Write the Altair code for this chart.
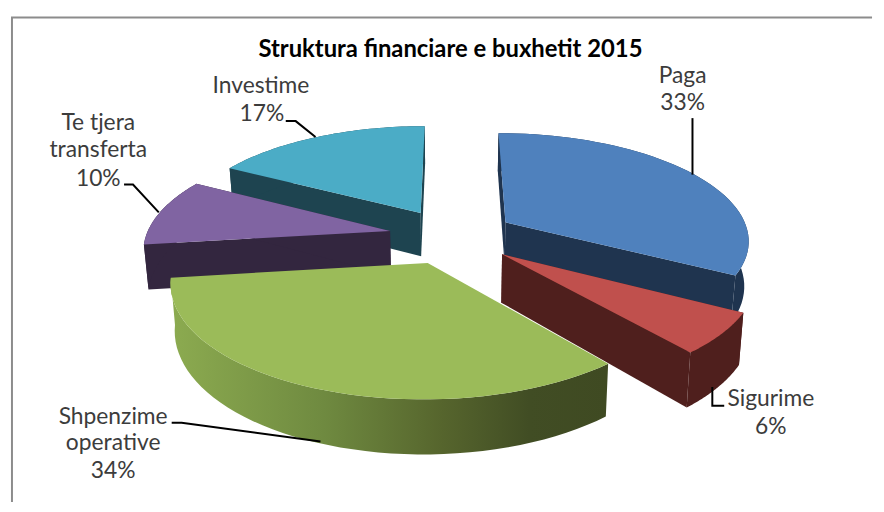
import math
import altair as alt
import pandas as pd

# --- values ---
names = ["Paga", "Sigurime", "Shpenzime operative", "Te tjera transferta", "Investime"]
shares = [33, 6, 34, 10, 17]
top_colors = ["#4f81bd", "#c0504d", "#9bbb59", "#8064a2", "#4bacc6"]
wall_colors = ["#1f344f", "#4f1f1d", "#3f4a22", "#33263f", "#1e4450"]
draw_order = [4, 0, 3, 1, 2]
depths = [45, 47.5, 45, 45, 45]

label_lines = ["Investime", "17%", "Te tjera", "transferta", "10%", "Paga", "33%",
               "Shpenzime", "operative", "34%", "Sigurime", "6%"]
label_x = [260, 261, 96, 96, 96, 685, 685, 111, 111, 111, 774, 774]
label_y = [85, 113, 122, 149, 178, 75, 102, 418, 445, 473, 400, 428]
title_text = "Struktura financiare e buxhetit 2015"

leaders = [
    [(285, 120), (295, 120), (315, 136)],
    [(122, 184), (131, 184), (157, 212)],
    [(695, 117), (695, 174)],
    [(170, 424), (180, 424), (320, 443)],
    [(715, 388), (715, 407), (727, 407)],
]

# --- view of the tilted pie ---
CX, CY, A, B, K, EXPLODE, TAPER = 452.5, 236, 246, 107.5, 0.152, 0.26, 0.985
X_DOM = [8, 876]
Y_DOM = [8, 504]


def project(theta, radius, mid, depth=None):
    u = radius * math.sin(theta) + EXPLODE * math.sin(mid)
    v = radius * math.cos(theta) + EXPLODE * math.cos(mid)
    s = 1 / (1 + K * v)
    x, y = CX + A * u * s, CY - B * v * s
    if depth is not None:
        x, y = CX + (x - CX) * TAPER, y + depth * s
    return x, y


def arc_angles(a0, a1, n=48):
    return [a0 + (a1 - a0) * i / n for i in range(n + 1)]


def frame(points):
    rows = [{"x": p[0], "y": p[1], "i": i} for i, p in enumerate(points + points[:1])]
    return pd.DataFrame(rows)


X = alt.X("x:Q", scale=alt.Scale(domain=X_DOM), axis=None)
Y = alt.Y("y:Q", scale=alt.Scale(domain=Y_DOM[::-1]), axis=None)


def polygon(points, fill):
    return alt.Chart(frame(points)).mark_line(fill=fill, stroke=None, strokeWidth=0).encode(
        x=X, y=Y, order=alt.Order("i:Q")
    )


green_wall = alt.Gradient(
    gradient="linear", x1=0, x2=1, y1=0, y2=0,
    stops=[
        alt.GradientStop(color="#8cab50", offset=0),
        alt.GradientStop(color="#6f8a40", offset=0.35),
        alt.GradientStop(color="#56652d", offset=0.62),
        alt.GradientStop(color="#414d24", offset=0.82),
        alt.GradientStop(color="#3f4a22", offset=1),
    ],
)

starts = [0]
for s in shares:
    starts.append(starts[-1] + s)

layers = []
for idx in draw_order:
    a0 = starts[idx] / 100 * 2 * math.pi
    a1 = starts[idx + 1] / 100 * 2 * math.pi
    mid = (a0 + a1) / 2
    d = depths[idx]
    angles = arc_angles(a0, a1)
    rim = [project(t, 1, mid) for t in angles]
    base = [project(t, 1, mid, d) for t in angles]
    apex = project(0, 0, mid)
    apex_low = project(0, 0, mid, d)
    wall = green_wall if idx == 2 else wall_colors[idx]
    if idx != 2:
        layers.append(polygon([apex, rim[0], base[0], apex_low], wall_colors[idx]))
        layers.append(polygon([apex, rim[-1], base[-1], apex_low], wall_colors[idx]))
    layers.append(polygon(rim + base[::-1], wall))
    layers.append(polygon([apex] + rim, top_colors[idx]))

for line in leaders:
    df = pd.DataFrame([{"x": p[0], "y": p[1], "i": i} for i, p in enumerate(line)])
    layers.append(alt.Chart(df).mark_line(color="#000000", strokeWidth=2).encode(
        x=X, y=Y, order=alt.Order("i:Q")))

# frame of the chart area
layers.append(alt.Chart(pd.DataFrame([
    {"x": 9, "y": 504, "i": 0}, {"x": 9, "y": 15.5, "i": 1}, {"x": 876, "y": 15.5, "i": 2},
])).mark_line(color="#8c8c8c", strokeWidth=2).encode(x=X, y=Y, order=alt.Order("i:Q")))

labels = pd.DataFrame({"x": label_x, "y": label_y, "t": label_lines})
layers.append(alt.Chart(labels).mark_text(
    font="Lato", fontSize=23, color="#3c3c3c", align="center", baseline="middle"
).encode(x=X, y=Y, text="t:N"))

layers.append(alt.Chart(pd.DataFrame({"x": [451], "y": [48], "t": [title_text]})).mark_text(
    font="Lato", fontSize=24, fontWeight="bold", color="#000000", align="center", baseline="middle"
).encode(x=X, y=Y, text="t:N"))

chart = alt.layer(*layers).properties(
    width=868, height=496, padding=0, background="#ffffff"
).configure_view(stroke=None)

chart.save("out.html", embed_options={"renderer": "svg", "actions": False})
